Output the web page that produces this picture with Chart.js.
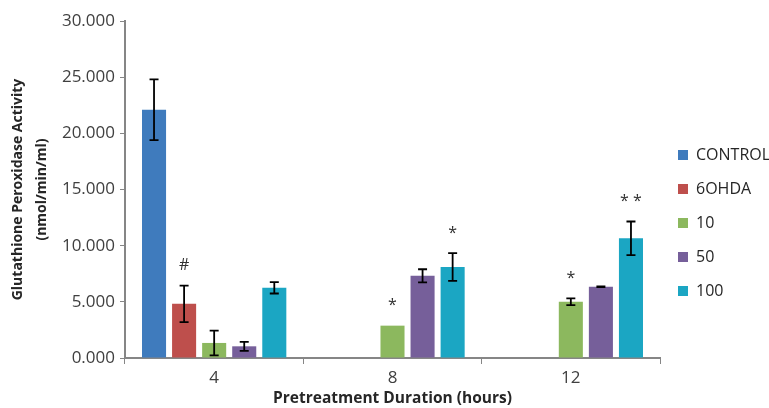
<!DOCTYPE html>
<html>
  <head>
    <meta charset="utf-8" />
    <title>Glutathione Peroxidase Activity</title>
    <script src="https://cdn.jsdelivr.net/npm/chart.js@4"></script>
    <style>
      html, body { margin: 0; padding: 0; background: #fff; }
      #wrap { width: 769px; height: 408px; }
    </style>
  </head>
  <body>
    <div id="wrap">
      <canvas id="gpxCanvas" width="769" height="408"></canvas>
    </div>
    <script>
      // categories (hours)
      const durations = ["4", "8", "12"];
      const groups = ["CONTROL", "6OHDA", "10", "50", "100"];

      // mean values, null = not measured
      const controlValues = [22.1, null, null];
      const ohdaValues = [4.82, null, null];
      const dose10Values = [1.34, 2.88, 5.0];
      const dose50Values = [1.04, 7.32, 6.34];
      const dose100Values = [6.25, 8.1, 10.65];

      // error bar half-widths
      const controlErr = [2.7, null, null];
      const ohdaErr = [1.62, null, null];
      const dose10Err = [1.1, 0, 0.3];
      const dose50Err = [0.4, 0.58, 0.03];
      const dose100Err = [0.51, 1.23, 1.5];

      // significance marks
      const controlMarks = ["", "", ""];
      const ohdaMarks = ["#", "", ""];
      const dose10Marks = ["", "*", "*"];
      const dose50Marks = ["", "", ""];
      const dose100Marks = ["", "*", "**"];

      const colors = ["#3F7BBD", "#BE4F4C", "#8CB85E", "#765F9A", "#1BA6C3"];

      const allValues = [controlValues, ohdaValues, dose10Values, dose50Values, dose100Values];
      const allErr = [controlErr, ohdaErr, dose10Err, dose50Err, dose100Err];
      const allMarks = [controlMarks, ohdaMarks, dose10Marks, dose50Marks, dose100Marks];

      const FONT = "'Open Sans', 'Liberation Sans', sans-serif";

      // draws the error bars and the significance marks on top of the bars
      const errorBarPlugin = {
        id: "errorBars",
        afterDatasetsDraw(chart) {
          const ctx = chart.ctx;
          const yScale = chart.scales.y;
          ctx.save();
          chart.data.datasets.forEach((ds, di) => {
            const meta = chart.getDatasetMeta(di);
            meta.data.forEach((bar, i) => {
              const v = ds.data[i];
              if (v === null || v === undefined) return;
              const e = ds.errors[i];
              const x = bar.x;
              let topPx = yScale.getPixelForValue(v);
              if (e) {
                const hi = yScale.getPixelForValue(v + e);
                const lo = yScale.getPixelForValue(v - e);
                ctx.strokeStyle = "#000";
                ctx.lineWidth = 1.8;
                ctx.beginPath();
                ctx.moveTo(x, hi);
                ctx.lineTo(x, lo);
                ctx.moveTo(x - 4.5, hi);
                ctx.lineTo(x + 4.5, hi);
                ctx.moveTo(x - 4.5, lo);
                ctx.lineTo(x + 4.5, lo);
                ctx.stroke();
                topPx = hi;
              }
              const mark = ds.marks[i];
              if (mark) {
                ctx.fillStyle = "#303030";
                ctx.font = "16px " + FONT;
                ctx.textAlign = "center";
                ctx.textBaseline = "bottom";
                ctx.fillText(mark.split("").join(" "), x, topPx - 12);
              }
            });
          });
          ctx.restore();
        },
      };

      const datasets = groups.map((g, k) => ({
        label: g,
        data: allValues[k],
        errors: allErr[k],
        marks: allMarks[k],
        backgroundColor: colors[k],
        borderWidth: 0,
        categoryPercentage: 0.843,
        barPercentage: 0.8,
        skipNull: false,
      }));

      const chart = new Chart(document.getElementById("gpxCanvas").getContext("2d"), {
        type: "bar",
        data: { labels: durations, datasets: datasets },
        plugins: [errorBarPlugin],
        options: {
          responsive: false,
          animation: false,
          layout: { padding: { top: 21, right: 0, left: 0, bottom: 0 } },
          plugins: {
            tooltip: { enabled: false },
            legend: {
              position: "right",
              maxWidth: 109,
              title: {
                display: true,
                text: "",
                font: { size: 10 },
                padding: { top: 5, bottom: 0 },
              },
              labels: {
                boxWidth: 10,
                boxHeight: 10,
                padding: 18,
                color: "#262626",
                font: { family: FONT, size: 16 },
              },
            },
          },
          scales: {
            x: {
              grid: {
                offset: true,
                drawOnChartArea: false,
                drawTicks: true,
                tickLength: 6,
                color: "#868686",
                lineWidth: 1,
              },
              border: { color: "#868686", width: 2 },
              ticks: { color: "#404040", padding: 4, font: { family: FONT, size: 17 } },
              title: {
                display: true,
                text: "Pretreatment Duration (hours)",
                color: "#262626",
                padding: { top: 0, bottom: 0 },
                font: { family: FONT, size: 15.5, weight: "bold" },
              },
              afterFit(scale) { scale.height = 50; },
            },
            y: {
              min: 0,
              max: 30,
              grid: {
                drawOnChartArea: false,
                drawTicks: true,
                tickLength: 5,
                color: "#868686",
              },
              border: { color: "#868686", width: 2 },
              ticks: {
                stepSize: 5,
                color: "#404040",
                padding: 5,
                font: { family: FONT, size: 17 },
                callback: (v) => v.toFixed(3),
              },
              title: {
                display: true,
                text: ["Glutathione Peroxidase Activity", "(nmol/min/ml)"],
                color: "#262626",
                padding: { top: 6, bottom: 0 },
                font: { family: FONT, size: 14, weight: "bold", lineHeight: 1.7 },
              },
              afterFit(scale) { scale.width = 125; },
            },
          },
        },
      });
    </script>
  </body>
</html>
